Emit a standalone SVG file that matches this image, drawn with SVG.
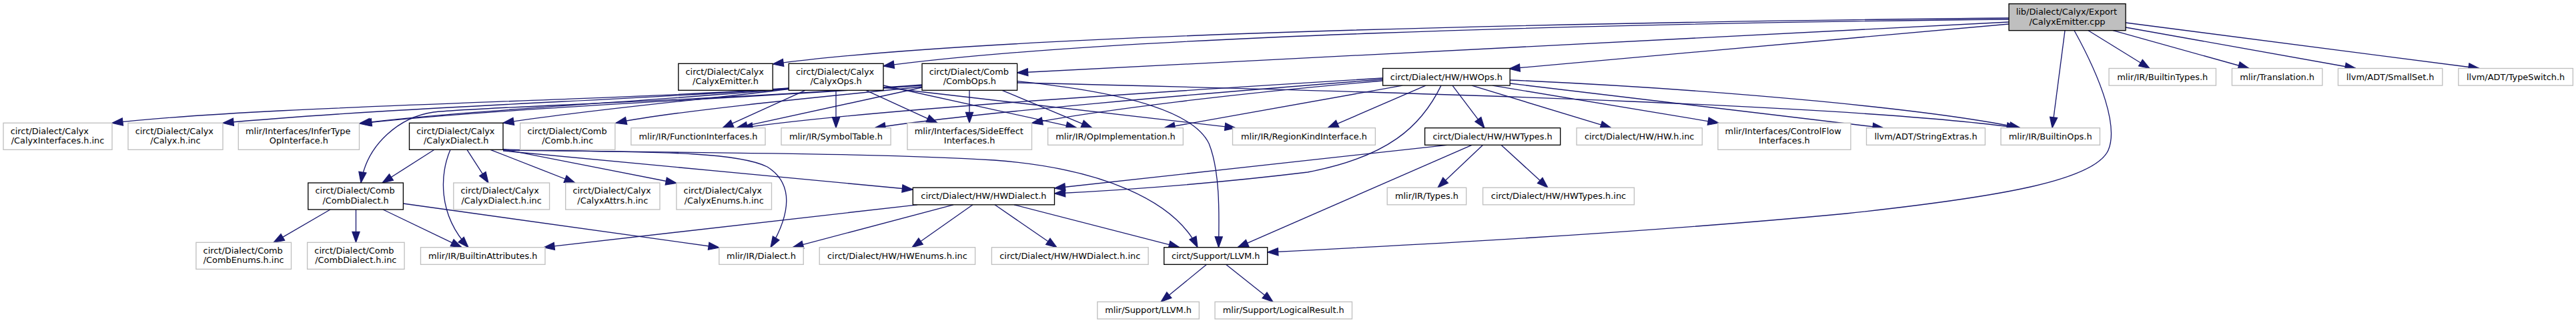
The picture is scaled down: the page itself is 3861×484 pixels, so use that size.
<svg xmlns="http://www.w3.org/2000/svg" width="3861" height="484" viewBox="0 0 3861 484">
<style>
.g{fill:#fff;stroke:#bfbfbf;stroke-width:1.33}
.b{fill:#fff;stroke:#000;stroke-width:1.33}
.m{fill:#bfbfbf;stroke:#000;stroke-width:1.33}
text{font-family:"DejaVu Sans","Liberation Sans",sans-serif;font-size:12.9px;fill:#000}
.c{text-anchor:middle}
.e path{fill:none;stroke:#191970;stroke-width:1.33;marker-end:url(#ah)}
</style>
<defs>
<marker id="ah" markerUnits="userSpaceOnUse" markerWidth="16" markerHeight="12" refX="13.3" refY="4.67" orient="auto" viewBox="0 0 13.3 9.34" overflow="visible">
<path d="M0,0 L13.3,4.67 L0,9.34 z" fill="#191970" stroke="#191970" stroke-width="1"/>
</marker>
</defs>
<rect width="3861" height="484" fill="#fff"/>
<g class="e" id="connectors">
<path d="M3011,27 C2400,33 1500,50 1158.2,96"/>
<path d="M3011,29 C2400,35 1650,55 1324,99"/>
<path d="M3011,33 L1524.6,109"/>
<path d="M3011,36 L2262,103"/>
<path d="M3109,45.7 C3150,120 3175,190 3160,225 C3140,270 3000,295 2767,320 C2450,350 2100,368 1899.7,378"/>
<path d="M3095,45.7 L3076,191.7"/>
<path d="M3130,45.7 L3222,102.5"/>
<path d="M3167,45.7 L3371,102.5"/>
<path d="M3186,41 L3531,102.5"/>
<path d="M3186,34 L3716,102.5"/>
<path d="M1182.2,132 C900,152 400,158 168,184.3"/>
<path d="M1182.2,132.5 C950,150 600,160 334,184.3"/>
<path d="M1182.2,133 C1000,150 700,165 538.5,185"/>
<path d="M1182.2,133.5 C1050,150 900,162 754,184.3"/>
<path d="M1207,135.3 L1083,191.7"/>
<path d="M1253,135.3 L1253,191.7"/>
<path d="M1298,135.3 L1405,184.3"/>
<path d="M1324,128 L1614,191.7"/>
<path d="M1324,131 L1852,191.7"/>
<path d="M1382,128 C1100,148 750,162 541,185"/>
<path d="M1382,127 C1050,152 720,160 650,168 C600,175 550,215 541,274"/>
<path d="M1382,130 C1200,148 1000,168 923,184.3"/>
<path d="M1382,131 L1104,191.7"/>
<path d="M1453,135.3 L1453,184.3"/>
<path d="M1502,135.3 L1637,191.7"/>
<path d="M1524.6,121.7 C1700,140 1790,170 1812,215 C1830,260 1827,330 1826.5,370.7"/>
<path d="M1524.6,124 C2200,140 2800,160 3024,191.7"/>
<path d="M2072.6,117 C1700,140 1300,165 1112,191.7"/>
<path d="M2072.6,119 C1800,140 1450,170 1311,191.7"/>
<path d="M2072.6,121 C1850,140 1650,165 1546.5,184.3"/>
<path d="M2102,128.1 L1745,191.7"/>
<path d="M2137,128.1 L1990,191.7"/>
<path d="M2160,128.1 C2130,190 2080,235 1960,258 C1820,275 1680,285 1580.5,290"/>
<path d="M2177,128.1 L2225,191.7"/>
<path d="M2206,128.1 L2415,191.7"/>
<path d="M2237,128.1 L2576,184.3"/>
<path d="M2263.2,125 L2823,191.7"/>
<path d="M2263.2,120 C2600,135 2900,165 3028,191.7"/>
<path d="M2169,217.3 L1580.5,282"/>
<path d="M2206,217.3 L1855,370.7"/>
<path d="M2222.6,217.3 L2155,281.2"/>
<path d="M2250,217.3 L2320,281.2"/>
<path d="M651,224.3 L573,274"/>
<path d="M675,224.3 C660,260 655,320 702,370.7"/>
<path d="M700,224.3 L732,274"/>
<path d="M735,224.3 L862,274"/>
<path d="M754,223.5 L1014,274.5"/>
<path d="M754,225 C950,228 1100,225 1150,250 C1190,275 1185,320 1155,370.7"/>
<path d="M754,224 C1000,230 1300,228 1490,240 C1650,252 1760,300 1795,370.7"/>
<path d="M754,226 L1368.3,284"/>
<path d="M495,314 L410,363.3"/>
<path d="M533.5,314 L533.5,363.3"/>
<path d="M574,314 L692,370.7"/>
<path d="M604.4,305 L1078,371"/>
<path d="M1375,306.8 L815,370.7"/>
<path d="M1429,306.8 L1188,370.7"/>
<path d="M1458,306.8 L1367,370.7"/>
<path d="M1491,306.8 L1584,370.7"/>
<path d="M1520,306.8 L1768,370.7"/>
<path d="M1808.5,396.3 L1740,452.3"/>
<path d="M1837.5,396.3 L1908,452.3"/>
</g>
<g id="node-main"><rect class="m" x="3011" y="5.7" width="175" height="40"/><text x="3021.7" y="22">lib/Dialect/Calyx/Export</text><text class="c" x="3098.5" y="36.5">/CalyxEmitter.cpp</text></g>
<g id="node-calyxemitter-h"><rect class="b" x="1016.8" y="95.3" width="141.4" height="40"/><text x="1027.5" y="111.6">circt/Dialect/Calyx</text><text class="c" x="1087.5" y="126.1">/CalyxEmitter.h</text></g>
<g id="node-calyxops-h"><rect class="b" x="1182.2" y="95.3" width="141.8" height="40"/><text x="1192.9" y="111.6">circt/Dialect/Calyx</text><text class="c" x="1253.1" y="126.1">/CalyxOps.h</text></g>
<g id="node-combops-h"><rect class="b" x="1382" y="95.3" width="142.6" height="40"/><text x="1392.7" y="111.6">circt/Dialect/Comb</text><text class="c" x="1453.3" y="126.1">/CombOps.h</text></g>
<g id="node-hwops-h"><rect class="b" x="2072.6" y="102.5" width="190.6" height="25.6"/><text class="c" x="2167.9" y="119.5">circt/Dialect/HW/HWOps.h</text></g>
<g id="node-builtintypes"><rect class="g" x="3161" y="102.5" width="160.4" height="25.6"/><text class="c" x="3241.2" y="119.5">mlir/IR/BuiltinTypes.h</text></g>
<g id="node-translation"><rect class="g" x="3345.4" y="102.5" width="135.4" height="25.6"/><text class="c" x="3413.1" y="119.5">mlir/Translation.h</text></g>
<g id="node-smallset"><rect class="g" x="3504.4" y="102.5" width="156.4" height="25.6"/><text class="c" x="3582.6" y="119.5">llvm/ADT/SmallSet.h</text></g>
<g id="node-typeswitch"><rect class="g" x="3684.8" y="102.5" width="171.6" height="25.6"/><text class="c" x="3770.6" y="119.5">llvm/ADT/TypeSwitch.h</text></g>
<g id="node-calyxinterfaces-inc"><rect class="g" x="5" y="184.3" width="163" height="40"/><text x="15.7" y="200.6">circt/Dialect/Calyx</text><text class="c" x="86.5" y="215.1">/CalyxInterfaces.h.inc</text></g>
<g id="node-calyx-inc"><rect class="g" x="192" y="184.3" width="142" height="40"/><text x="202.7" y="200.6">circt/Dialect/Calyx</text><text class="c" x="263" y="215.1">/Calyx.h.inc</text></g>
<g id="node-infertype"><rect class="g" x="357.3" y="184.3" width="181.2" height="40"/><text x="368" y="200.6">mlir/Interfaces/InferType</text><text class="c" x="447.9" y="215.1">OpInterface.h</text></g>
<g id="node-calyxdialect-h"><rect class="b" x="613.5" y="184.3" width="140.5" height="40"/><text x="624.2" y="200.6">circt/Dialect/Calyx</text><text class="c" x="683.75" y="215.1">/CalyxDialect.h</text></g>
<g id="node-comb-inc"><rect class="g" x="779.7" y="184.3" width="142.2" height="40"/><text x="790.4" y="200.6">circt/Dialect/Comb</text><text class="c" x="850.8" y="215.1">/Comb.h.inc</text></g>
<g id="node-functioninterfaces"><rect class="g" x="945.9" y="191.7" width="201.1" height="25.6"/><text class="c" x="1046.5" y="208.7">mlir/IR/FunctionInterfaces.h</text></g>
<g id="node-symboltable"><rect class="g" x="1171" y="191.7" width="164.1" height="25.6"/><text class="c" x="1253" y="208.7">mlir/IR/SymbolTable.h</text></g>
<g id="node-sideeffect"><rect class="g" x="1360" y="184.3" width="186.5" height="40"/><text x="1370.7" y="200.6">mlir/Interfaces/SideEffect</text><text class="c" x="1453.2" y="215.1">Interfaces.h</text></g>
<g id="node-opimpl"><rect class="g" x="1570.6" y="191.7" width="202.7" height="25.6"/><text class="c" x="1672" y="208.7">mlir/IR/OpImplementation.h</text></g>
<g id="node-regionkind"><rect class="g" x="1847.5" y="191.7" width="213.9" height="25.6"/><text class="c" x="1954.5" y="208.7">mlir/IR/RegionKindInterface.h</text></g>
<g id="node-hwtypes-h"><rect class="b" x="2135.6" y="191.7" width="203.1" height="25.6"/><text class="c" x="2237.1" y="208.7">circt/Dialect/HW/HWTypes.h</text></g>
<g id="node-hw-inc"><rect class="g" x="2363.1" y="191.7" width="188.2" height="25.6"/><text class="c" x="2457.2" y="208.7">circt/Dialect/HW/HW.h.inc</text></g>
<g id="node-controlflow"><rect class="g" x="2574.9" y="184.3" width="199" height="40"/><text x="2585.6" y="200.6">mlir/Interfaces/ControlFlow</text><text class="c" x="2674.4" y="215.1">Interfaces.h</text></g>
<g id="node-stringextras"><rect class="g" x="2797.5" y="191.7" width="177.9" height="25.6"/><text class="c" x="2886.5" y="208.7">llvm/ADT/StringExtras.h</text></g>
<g id="node-builtinops"><rect class="g" x="2999" y="191.7" width="148.4" height="25.6"/><text class="c" x="3073.2" y="208.7">mlir/IR/BuiltinOps.h</text></g>
<g id="node-combdialect-h"><rect class="b" x="461.8" y="274" width="142.6" height="40"/><text x="472.5" y="290.3">circt/Dialect/Comb</text><text class="c" x="533.1" y="304.8">/CombDialect.h</text></g>
<g id="node-calyxdialect-inc"><rect class="g" x="679.8" y="274" width="143.8" height="40"/><text x="690.5" y="290.3">circt/Dialect/Calyx</text><text class="c" x="751.7" y="304.8">/CalyxDialect.h.inc</text></g>
<g id="node-calyxattrs-inc"><rect class="g" x="847.7" y="274" width="141.3" height="40"/><text x="858.4" y="290.3">circt/Dialect/Calyx</text><text class="c" x="918.35" y="304.8">/CalyxAttrs.h.inc</text></g>
<g id="node-calyxenums-inc"><rect class="g" x="1013.9" y="274" width="142.6" height="40"/><text x="1024.6" y="290.3">circt/Dialect/Calyx</text><text class="c" x="1085.2" y="304.8">/CalyxEnums.h.inc</text></g>
<g id="node-hwdialect-h"><rect class="b" x="1368.3" y="281.2" width="212.2" height="25.6"/><text class="c" x="1474.4" y="298.2">circt/Dialect/HW/HWDialect.h</text></g>
<g id="node-types-h"><rect class="g" x="2079.2" y="281.2" width="118.5" height="25.6"/><text class="c" x="2138.45" y="298.2">mlir/IR/Types.h</text></g>
<g id="node-hwtypes-inc"><rect class="g" x="2222.6" y="281.2" width="226.8" height="25.6"/><text class="c" x="2336" y="298.2">circt/Dialect/HW/HWTypes.h.inc</text></g>
<g id="node-combenums-inc"><rect class="g" x="293.9" y="363.3" width="142.6" height="40"/><text x="304.6" y="379.6">circt/Dialect/Comb</text><text class="c" x="365.2" y="394.1">/CombEnums.h.inc</text></g>
<g id="node-combdialect-inc"><rect class="g" x="460.6" y="363.3" width="145.5" height="40"/><text x="471.3" y="379.6">circt/Dialect/Comb</text><text class="c" x="533.35" y="394.1">/CombDialect.h.inc</text></g>
<g id="node-builtinattributes"><rect class="g" x="630.5" y="370.7" width="186.5" height="25.6"/><text class="c" x="723.75" y="387.7">mlir/IR/BuiltinAttributes.h</text></g>
<g id="node-dialect-h"><rect class="g" x="1077.8" y="370.7" width="126.4" height="25.6"/><text class="c" x="1141" y="387.7">mlir/IR/Dialect.h</text></g>
<g id="node-hwenums-inc"><rect class="g" x="1228.2" y="370.7" width="233.4" height="25.6"/><text class="c" x="1344.9" y="387.7">circt/Dialect/HW/HWEnums.h.inc</text></g>
<g id="node-hwdialect-inc"><rect class="g" x="1486.4" y="370.7" width="234.7" height="25.6"/><text class="c" x="1603.75" y="387.7">circt/Dialect/HW/HWDialect.h.inc</text></g>
<g id="node-support-llvm"><rect class="b" x="1744.7" y="370.7" width="155" height="25.6"/><text class="c" x="1822.2" y="387.7">circt/Support/LLVM.h</text></g>
<g id="node-mlir-support-llvm"><rect class="g" x="1644.8" y="452.3" width="152.5" height="25.6"/><text class="c" x="1721.05" y="469.3">mlir/Support/LLVM.h</text></g>
<g id="node-logicalresult"><rect class="g" x="1821" y="452.3" width="205.5" height="25.6"/><text class="c" x="1923.75" y="469.3">mlir/Support/LogicalResult.h</text></g>
</svg>
